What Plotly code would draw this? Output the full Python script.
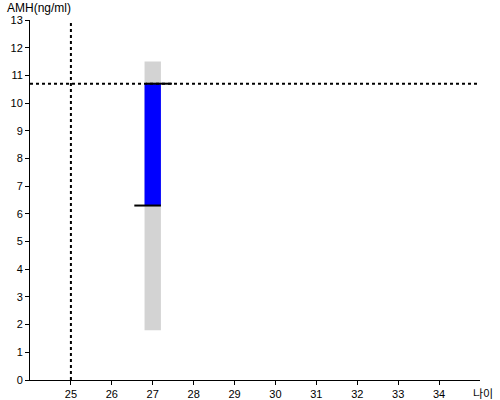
import plotly.graph_objects as go

# 데이터
age = 27
ref_age = 25
range_low, range_high = 1.8, 11.5      # 회색 범위
my_low, my_high = 6.3, 10.7            # 파란 막대
low_seg = [26.55, 27.2]
high_seg = [26.83, 27.47]
x_ticks = list(range(25, 35))
y_ticks = list(range(0, 14))

fig = go.Figure()
fig.add_trace(go.Bar(x=[age], y=[range_high - range_low], base=[range_low],
                     width=0.4, marker=dict(color="#d3d3d3", line=dict(width=0))))
fig.add_trace(go.Bar(x=[age], y=[my_high - my_low], base=[my_low],
                     width=0.4, marker=dict(color="#0000ff", line=dict(width=0))))
fig.add_trace(go.Scatter(x=low_seg, y=[my_low, my_low], mode="lines",
                         line=dict(color="black", width=2)))
fig.add_trace(go.Scatter(x=high_seg, y=[my_high, my_high], mode="lines",
                         line=dict(color="black", width=2)))

# 점선
fig.add_shape(type="line", x0=ref_age, x1=ref_age, y0=0, y1=1, yref="paper",
              line=dict(color="black", width=2, dash="dot"))
fig.add_shape(type="line", x0=0, x1=1, xref="paper", y0=my_high, y1=my_high,
              line=dict(color="black", width=2, dash="dot"))

fig.update_layout(
    width=500, height=400,
    margin=dict(l=30, r=20, t=20, b=20),
    plot_bgcolor="white", paper_bgcolor="white",
    showlegend=False, barmode="overlay",
    font=dict(family="Arial, Liberation Sans", size=11, color="black"),
)
fig.update_xaxes(range=[24, 35], tickvals=x_ticks, showline=True, linecolor="black",
                 linewidth=1, ticks="outside", ticklen=4, tickcolor="black",
                 showgrid=False, zeroline=False, automargin=False)
fig.update_yaxes(range=[0, 13], tickvals=y_ticks, showline=True, linecolor="black",
                 linewidth=1, ticks="outside", ticklen=4, tickcolor="black",
                 showgrid=False, zeroline=False, automargin=False)

fig.add_annotation(text="AMH(ng/ml)", xref="paper", yref="paper",
                   x=-25/450, y=1 + 12/360, xanchor="left", yanchor="middle",
                   showarrow=False, font=dict(size=12))
fig.add_annotation(text="나이", xref="paper", yref="paper", x=453/450, y=-13/360,
                   xanchor="center", yanchor="middle", showarrow=False,
                   font=dict(size=11, family="Noto Sans CJK KR"))

# 페이지 여백 제거
fig.write_html("out.html", config={"displayModeBar": False},
               post_script="document.body.style.margin='0';")
